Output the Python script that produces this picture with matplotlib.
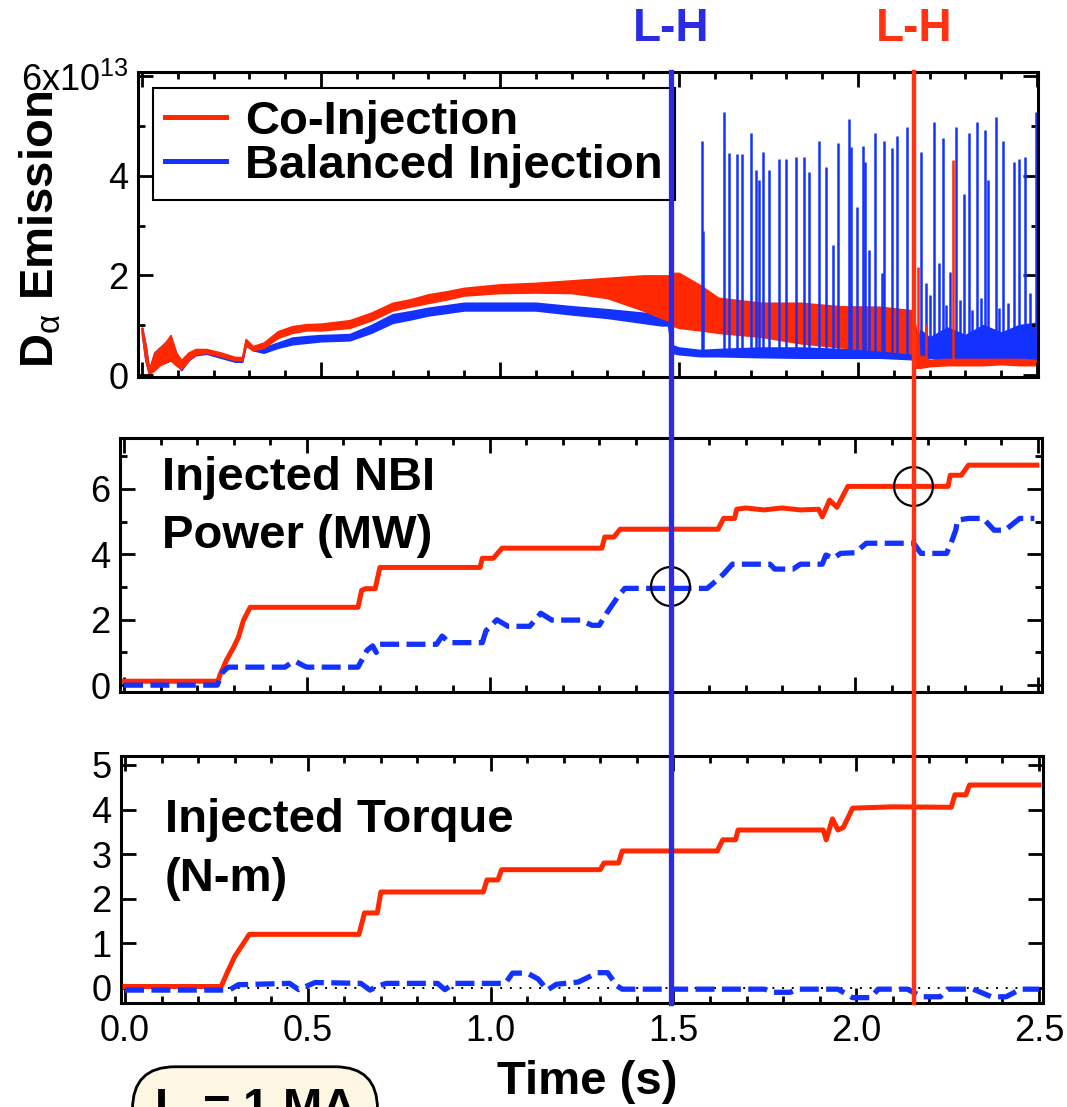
import matplotlib
matplotlib.use('Agg')
import matplotlib.pyplot as plt
from matplotlib.lines import Line2D
from matplotlib.ticker import MultipleLocator, FixedLocator
from matplotlib.transforms import blended_transform_factory

plt.rcParams['font.family'] = ['Liberation Sans', 'DejaVu Sans']
plt.rcParams['mathtext.fontset'] = 'custom'
plt.rcParams['mathtext.rm'] = 'Liberation Sans'
plt.rcParams['mathtext.it'] = 'Liberation Sans:italic'
plt.rcParams['mathtext.bf'] = 'Liberation Sans:bold'

RED = '#FF2800'
BLUE = '#1432FF'
LH_BLUE = '#2B2BE3'
LH_RED = '#FF3214'

# ---------------- Panel 1 : D-alpha emission (x 1e13) ----------------
da_t = [0.000, 0.010, 0.020, 0.035, 0.050, 0.065, 0.080, 0.095, 0.110, 0.130,
        0.150, 0.180, 0.220, 0.260, 0.280, 0.290, 0.310, 0.340, 0.380, 0.420,
        0.460, 0.500, 0.580, 0.640, 0.700, 0.750, 0.800, 0.850, 0.900, 1.000,
        1.100, 1.200, 1.300, 1.400, 1.450, 1.470, 1.480, 1.500, 1.560, 1.610,
        1.730, 1.840, 1.950, 2.060, 2.150, 2.160, 2.175, 2.200, 2.250, 2.300,
        2.350, 2.400, 2.450, 2.500]
co_lo = [0.85, 0.30, 0.02, 0.10, 0.20, 0.25, 0.30, 0.20, 0.12, 0.30,
         0.42, 0.45, 0.38, 0.30, 0.30, 0.60, 0.50, 0.55, 0.75, 0.85,
         0.90, 0.90, 0.95, 1.10, 1.30, 1.38, 1.45, 1.52, 1.60, 1.65,
         1.66, 1.65, 1.55, 1.30, 1.15, 1.10, 1.00, 0.95, 0.90, 0.85,
         0.77, 0.64, 0.56, 0.50, 0.44, 0.15, 0.15, 0.18, 0.20, 0.20,
         0.20, 0.22, 0.20, 0.20]
co_hi = [0.95, 0.60, 0.10, 0.45, 0.55, 0.65, 0.80, 0.45, 0.30, 0.45,
         0.52, 0.52, 0.45, 0.36, 0.36, 0.72, 0.58, 0.65, 0.88, 0.98,
         1.02, 1.03, 1.10, 1.25, 1.45, 1.52, 1.62, 1.68, 1.75, 1.82,
         1.85, 1.90, 1.95, 2.00, 2.00, 2.00, 2.05, 2.05, 1.80, 1.55,
         1.45, 1.45, 1.38, 1.37, 1.30, 1.00, 0.40, 0.30, 0.32, 0.32,
         0.32, 0.32, 0.32, 0.30]
bal_lo = [0.85, 0.30, 0.02, 0.15, 0.25, 0.25, 0.30, 0.25, 0.10, 0.30,
          0.40, 0.43, 0.35, 0.27, 0.27, 0.60, 0.50, 0.45, 0.55, 0.62,
          0.65, 0.68, 0.70, 0.85, 1.05, 1.12, 1.20, 1.25, 1.30, 1.30,
          1.30, 1.22, 1.15, 1.05, 1.00, 1.00, 0.45, 0.42, 0.38, 0.38,
          0.36, 0.35, 0.35, 0.35, 0.32, 0.32, 0.35, 0.35, 0.30, 0.32,
          0.32, 0.32, 0.32, 0.32]
bal_hi = [0.95, 0.60, 0.10, 0.45, 0.55, 0.65, 0.75, 0.45, 0.25, 0.42,
          0.50, 0.50, 0.42, 0.33, 0.33, 0.70, 0.56, 0.55, 0.65, 0.75,
          0.78, 0.80, 0.82, 1.00, 1.22, 1.28, 1.35, 1.40, 1.45, 1.45,
          1.45, 1.38, 1.32, 1.25, 1.20, 1.20, 0.60, 0.55, 0.50, 0.52,
          0.55, 0.55, 0.52, 0.50, 0.50, 0.55, 0.90, 0.75, 0.95, 0.80,
          1.00, 0.85, 1.00, 1.05]
bal_elm_t = [1.564, 1.567, 1.626, 1.640, 1.661, 1.676, 1.700, 1.715, 1.724, 1.735,
             1.751, 1.780, 1.800, 1.826, 1.850, 1.864, 1.890, 1.910, 1.930, 1.944,
             1.974, 1.980, 1.997, 2.014, 2.020, 2.030, 2.047, 2.067, 2.073, 2.095,
             2.109, 2.137, 2.176, 2.190, 2.212, 2.226, 2.237, 2.257, 2.274, 2.296,
             2.310, 2.332, 2.355, 2.363, 2.385, 2.405, 2.435, 2.450, 2.466, 2.497,
             2.200, 2.245, 2.285, 2.320, 2.345, 2.395, 2.420, 2.480]
bal_elm_peak = [4.70, 2.90, 5.29, 4.46, 4.44, 4.44, 4.87, 4.12, 3.92, 4.48,
                4.12, 4.34, 4.34, 4.38, 4.38, 4.08, 4.70, 4.18, 2.61, 4.66,
                5.15, 4.58, 3.38, 4.60, 4.28, 2.51, 4.87, 2.05, 4.70, 4.56,
                4.80, 4.99, 4.48, 1.85, 5.08, 2.25, 4.77, 2.07, 4.98, 3.64,
                4.87, 5.08, 4.92, 3.92, 5.19, 4.70, 4.28, 4.34, 4.38, 5.29,
                1.60, 1.40, 1.50, 1.30, 1.55, 1.35, 1.45, 1.65]
bal_elm_base = 0.40
co_elm_t = [2.168, 2.190, 2.265]
co_elm_peak = [2.17, 1.00, 4.32]
co_elm_base = 0.25

# ---------------- Panel 2 : injected NBI power (MW) ----------------
nbi_co_t = [0.000, 0.257, 0.262, 0.280, 0.300, 0.313, 0.327, 0.345, 0.640, 0.650,
            0.660, 0.687, 0.700, 0.974, 0.980, 1.010, 1.034, 1.307, 1.315, 1.340,
            1.357, 1.625, 1.640, 1.670, 1.676, 1.700, 1.750, 1.800, 1.850, 1.900,
            1.910, 1.930, 1.950, 1.980, 2.254, 2.260, 2.290, 2.310, 2.497]
nbi_co = [0.12, 0.12, 0.30, 0.76, 1.16, 1.47, 1.99, 2.38, 2.38, 2.90,
          2.95, 2.95, 3.60, 3.60, 3.88, 3.88, 4.19, 4.19, 4.53, 4.53,
          4.77, 4.77, 5.10, 5.10, 5.38, 5.42, 5.36, 5.42, 5.36, 5.38,
          5.15, 5.66, 5.44, 6.08, 6.08, 6.42, 6.42, 6.73, 6.73]
nbi_bal_t = [0.000, 0.255, 0.270, 0.285, 0.440, 0.460, 0.470, 0.490, 0.500, 0.640,
             0.665, 0.680, 0.690, 0.700, 0.855, 0.870, 0.890, 0.980, 0.990, 1.020,
             1.050, 1.110, 1.140, 1.170, 1.250, 1.280, 1.300, 1.320, 1.350, 1.370,
             1.595, 1.610, 1.640, 1.664, 1.767, 1.780, 1.830, 1.850, 1.910, 1.920,
             1.940, 1.960, 2.000, 2.030, 2.160, 2.180, 2.250, 2.265, 2.275, 2.280,
             2.310, 2.350, 2.380, 2.410, 2.450, 2.490]
nbi_bal = [0.00, 0.00, 0.40, 0.55, 0.55, 0.70, 0.72, 0.60, 0.55, 0.55,
           1.07, 1.20, 1.00, 1.25, 1.25, 1.50, 1.30, 1.30, 1.66, 2.00,
           1.80, 1.80, 2.20, 1.99, 1.99, 1.83, 1.83, 2.20, 2.69, 2.96,
           2.96, 3.10, 3.40, 3.70, 3.70, 3.55, 3.55, 3.70, 3.70, 3.98,
           3.88, 4.03, 4.05, 4.34, 4.34, 4.03, 4.03, 4.43, 4.74, 5.05,
           5.10, 5.10, 4.74, 4.74, 5.10, 5.10]

# ---------------- Panel 3 : injected torque (N-m) ----------------
tq_co_t = [0.000, 0.263, 0.280, 0.300, 0.320, 0.340, 0.640, 0.655, 0.690, 0.700,
           0.980, 0.990, 1.020, 1.030, 1.300, 1.310, 1.350, 1.360, 1.620, 1.635,
           1.670, 1.677, 1.910, 1.918, 1.935, 1.950, 1.965, 1.990, 2.100, 2.260,
           2.270, 2.300, 2.310, 2.500]
tq_co = [0.03, 0.03, 0.35, 0.70, 0.95, 1.20, 1.20, 1.68, 1.68, 2.15,
         2.15, 2.42, 2.42, 2.65, 2.65, 2.80, 2.80, 3.07, 3.07, 3.32,
         3.32, 3.54, 3.54, 3.32, 3.79, 3.54, 3.60, 4.03, 4.06, 4.05,
         4.33, 4.33, 4.55, 4.55]
tq_bal_t = [0.000, 0.285, 0.310, 0.450, 0.475, 0.500, 0.520, 0.645, 0.670, 0.695,
            0.715, 0.855, 0.875, 0.900, 1.040, 1.060, 1.100, 1.130, 1.155, 1.180,
            1.240, 1.270, 1.290, 1.320, 1.345, 1.360, 1.750, 1.770, 1.820, 1.840,
            1.950, 1.990, 2.040, 2.060, 2.140, 2.180, 2.230, 2.250, 2.320, 2.370,
            2.410, 2.450, 2.500]
tq_bal = [-0.05, -0.05, 0.07, 0.10, -0.04, 0.05, 0.12, 0.10, -0.05, 0.05,
          0.10, 0.10, -0.04, 0.10, 0.10, 0.33, 0.33, 0.20, -0.05, 0.08,
          0.13, 0.25, 0.34, 0.34, 0.05, -0.03, -0.03, -0.10, -0.10, -0.03,
          -0.03, -0.22, -0.22, -0.03, -0.03, -0.20, -0.20, -0.03, -0.03, -0.20,
          -0.20, -0.03, -0.03]

# L-H transition times and NBI power at transition
lh_times = [1.494, 2.158]
lh_colors = [LH_BLUE, LH_RED]
lh_power = [3.03, 6.08]

legend_labels = ['Co-Injection', 'Balanced Injection']
time_ticks = [0.0, 0.5, 1.0, 1.5, 2.0, 2.5]
time_labels = ['0.0', '0.5', '1.0', '1.5', '2.0', '2.5']

# ---------------- figure ----------------
W, H = 1067, 1107
fig = plt.figure(figsize=(W / 100, H / 100), dpi=100)


def rect(l, t, r, b):
    return [l / W, 1 - b / H, (r - l) / W, (b - t) / H]


ax1 = fig.add_axes(rect(138, 72, 1038, 377))
ax2 = fig.add_axes(rect(120, 438, 1042, 692))
ax3 = fig.add_axes(rect(121, 756, 1043, 1003))


def style(ax):
    for s in ax.spines.values():
        s.set_linewidth(2.2)
    ax.tick_params(which='both', direction='in', top=True, right=True,
                   width=2.0, labelsize=26, pad=7)
    ax.tick_params(which='major', length=11)
    ax.tick_params(which='minor', length=5)
    ax.xaxis.set_major_locator(FixedLocator(time_ticks))
    ax.xaxis.set_minor_locator(MultipleLocator(0.1))


for ax in (ax1, ax2, ax3):
    style(ax)

DASH = (0, (3.6, 1.4))

# Panel 1
ax1.fill_between(da_t, bal_lo, bal_hi, color=BLUE, lw=1.3)
ax1.vlines(bal_elm_t, bal_elm_base, bal_elm_peak, color=BLUE, lw=1.8)
ax1.fill_between(da_t, co_lo, co_hi, color=RED, lw=1.3)
ax1.vlines(co_elm_t, co_elm_base, co_elm_peak, color=RED, lw=1.8)
ax1.set_xlim(-0.011, 2.503)
ax1.set_ylim(-0.04, 6.09)
ax1.set_yticks([0, 2, 4, 6])
ax1.set_yticklabels(['0', '2', '4', r'6x10$^{13}$'])
ax1.yaxis.set_minor_locator(FixedLocator([1, 3, 5]))
ax1.tick_params(labelbottom=False)

handles = [Line2D([], [], color=RED, lw=3.6), Line2D([], [], color=BLUE, lw=3.6)]
leg = ax1.legend(handles, legend_labels, loc='upper left',
                 bbox_to_anchor=((153 - 138) / 900, 1 - (88 - 72) / 305),
                 borderaxespad=0, frameon=True, fancybox=False, edgecolor='k',
                 framealpha=1, prop={'weight': 'bold', 'size': 34},
                 handlelength=1.3, handletextpad=0.4, borderpad=0.25,
                 labelspacing=0.0)
leg.get_frame().set_linewidth(1.5)

# Panel 2
ax2.plot(nbi_co_t, nbi_co, color=RED, lw=3.6, solid_joinstyle='round')
ax2.plot(nbi_bal_t, nbi_bal, color=BLUE, lw=3.8, linestyle=DASH)
ax2.plot(lh_times, lh_power, 'o', mfc='none', mec='k', ms=28, mew=1.6, zorder=6)
ax2.set_xlim(-0.011, 2.511)
ax2.set_ylim(-0.21, 7.56)
ax2.set_yticks([0, 2, 4, 6])
ax2.yaxis.set_minor_locator(FixedLocator([1, 3, 5, 7]))
ax2.tick_params(labelbottom=False)
ax2.text((162 - 120) / 922, (692 - 456) / 254, 'Injected NBI\nPower (MW)',
         transform=ax2.transAxes, ha='left', va='top', fontsize=34,
         fontweight='bold', linespacing=1.4)

# Panel 3
ax3.axhline(0, color='k', lw=1.4, linestyle=(0, (1, 4)), zorder=1)
ax3.plot(tq_co_t, tq_co, color=RED, lw=3.6, zorder=3)
ax3.plot(tq_bal_t, tq_bal, color=BLUE, lw=3.8, linestyle=DASH, zorder=3)
ax3.set_xlim(-0.011, 2.511)
ax3.set_ylim(-0.34, 5.2)
ax3.set_yticks([0, 1, 2, 3, 4, 5])
ax3.set_xticklabels(time_labels)
ax3.tick_params(axis='x', pad=8)
ax3.text((165 - 121) / 922, (1003 - 798) / 247, 'Injected Torque\n(N-m)',
         transform=ax3.transAxes, ha='left', va='top', fontsize=34,
         fontweight='bold', linespacing=1.45)

# Y label of panel 1
fig.text(41 / W, 1 - 229 / H, r'D$_{\mathrm{\alpha}}$ Emission', rotation=90,
         ha='center', va='center', fontsize=34, fontweight='bold')

# Time label
fig.text(587 / W, 1 - 1082 / H, 'Time (s)', ha='center', va='center',
         fontsize=34, fontweight='bold')

# L-H transition lines spanning all panels
trans = blended_transform_factory(ax3.transData, fig.transFigure)
y_top = ax1.get_position().y1
y_bot = ax3.get_position().y0
for t, c, lw in zip(lh_times, lh_colors, [3.8, 3.2]):
    fig.add_artist(Line2D([t, t], [y_bot, y_top], transform=trans, color=c,
                          lw=lw, zorder=5))
    fig.text(t, 1 - 29 / H, 'L-H', transform=trans, ha='center', va='center',
             color=c, fontsize=33, fontweight='bold')

# Ip box (cut by the lower edge)
fig.text(255 / W, 1 - 1088 / H, r'I$_\mathbf{p}$ = 1 MA', ha='center', va='top',
         fontsize=34, fontweight='bold',
         bbox=dict(boxstyle='round,pad=0.45,rounding_size=0.9', fc='#FDF6E3',
                   ec='k', lw=2))

fig.savefig('out.png', dpi=100)
